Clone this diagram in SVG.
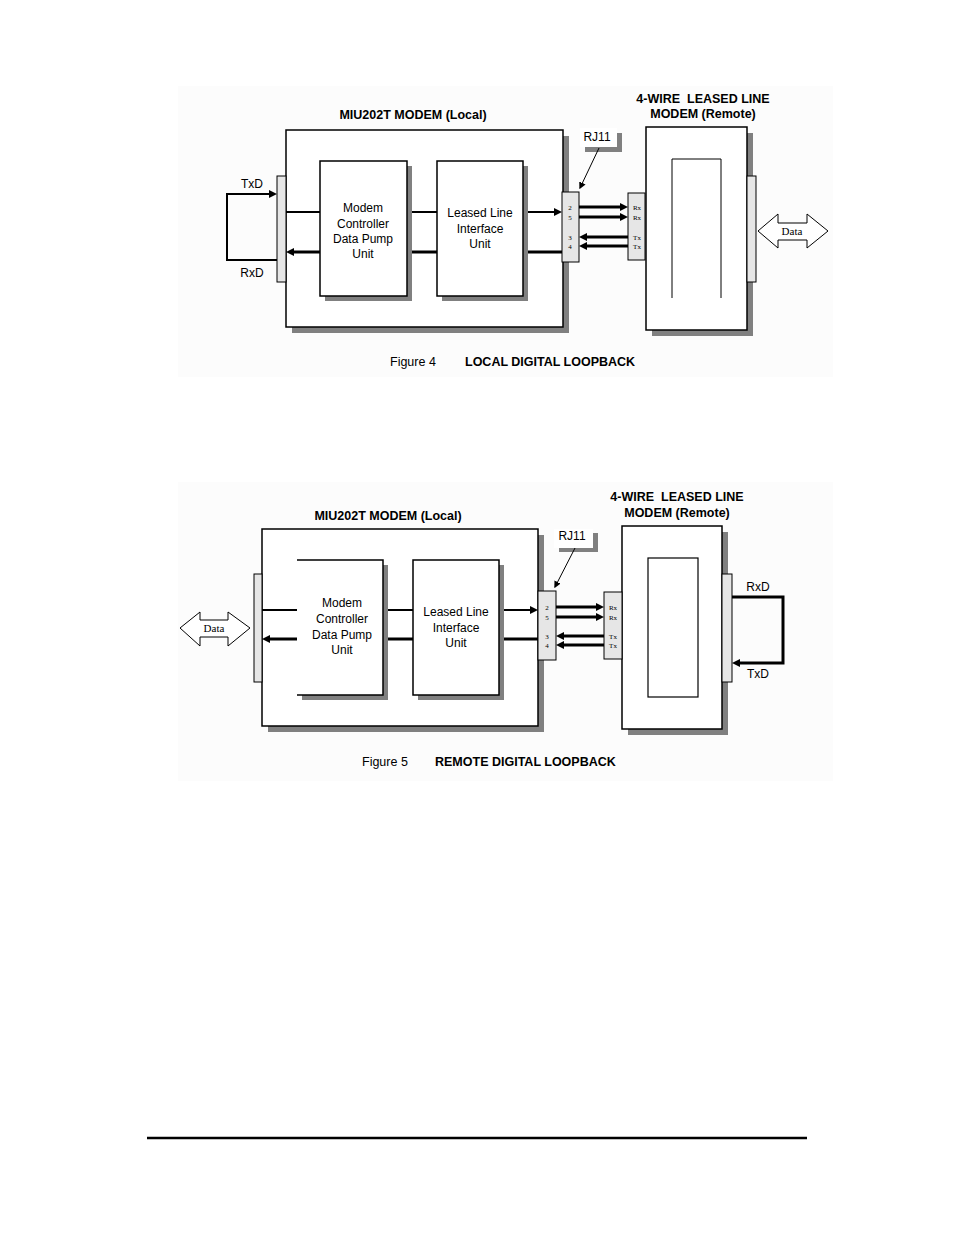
<svg xmlns="http://www.w3.org/2000/svg" width="954" height="1235" viewBox="0 0 954 1235">
<style>
.bg{fill:#fcfcfc}
.box{fill:#fff;stroke:#000;stroke-width:1.5}
.sh{fill:#808080}
.strip{fill:#e6e6e6;stroke:#000;stroke-width:1}
.thin{stroke:#000;stroke-width:2;fill:none}
.thick{stroke:#000;stroke-width:3;fill:none}
.ptr{stroke:#000;stroke-width:1;fill:none}
.t{font-family:"Liberation Sans",Arial,sans-serif;font-size:12px;fill:#000}
.b{font-family:"Liberation Sans",Arial,sans-serif;font-size:12.5px;font-weight:bold;fill:#000}
.cap{font-family:"Liberation Sans",Arial,sans-serif;font-size:12.5px;fill:#000}
.pin{font-family:"Liberation Serif","Times New Roman",serif;font-size:7px;fill:#000}
.dt{font-family:"Liberation Serif","Times New Roman",serif;font-size:11px;fill:#000}
.dar{fill:#fff;stroke:#000;stroke-width:1}
</style>
<defs>
<marker id="ah" viewBox="0 0 10 10" refX="5" refY="5" markerWidth="8" markerHeight="8" markerUnits="userSpaceOnUse" orient="auto"><path d="M0,0 L10,5 L0,10 z" fill="#000"/></marker>
<marker id="ahs" viewBox="0 0 10 10" refX="8" refY="5" markerWidth="7" markerHeight="7" markerUnits="userSpaceOnUse" orient="auto"><path d="M0,0 L10,5 L0,10 z" fill="#000"/></marker>
</defs>
<rect width="954" height="1235" fill="#fff"/>
<rect class="bg" x="178" y="86" width="655" height="291"/>
<rect class="bg" x="178" y="482" width="655" height="299"/>

<!-- ================= FIGURE 4 ================= -->
<g id="fig4-local-modem">
<rect class="sh" x="292" y="136" width="277" height="197"/>
<rect class="box" x="286" y="130" width="277" height="197"/>
<text class="b" x="413" y="119" text-anchor="middle">MIU202T MODEM (Local)</text>
</g>
<g id="fig4-modem-controller">
<rect class="sh" x="325" y="166" width="87" height="135"/>
<rect class="box" x="320" y="161" width="87" height="135"/>
<text class="t" text-anchor="middle"><tspan x="363" y="212">Modem</tspan><tspan x="363" y="228">Controller</tspan><tspan x="363" y="243">Data Pump</tspan><tspan x="363" y="258">Unit</tspan></text>
</g>
<g id="fig4-leased-line">
<rect class="sh" x="442" y="166" width="86" height="135"/>
<rect class="box" x="437" y="161" width="86" height="135"/>
<text class="t" text-anchor="middle"><tspan x="480" y="217">Leased Line</tspan><tspan x="480" y="233">Interface</tspan><tspan x="480" y="248">Unit</tspan></text>
</g>
<g id="fig4-left-strip">
<rect class="strip" x="277" y="176" width="9" height="106"/>
<text class="t" x="252" y="188" text-anchor="middle">TxD</text>
<text class="t" x="252" y="277" text-anchor="middle">RxD</text>
</g>
<g id="fig4-rj11-local">
<rect class="strip" x="562" y="192" width="17" height="70"/>
<text class="pin" x="570" y="209.5" text-anchor="middle">2</text>
<text class="pin" x="570" y="219.5" text-anchor="middle">5</text>
<text class="pin" x="570" y="239.5" text-anchor="middle">3</text>
<text class="pin" x="570" y="248.5" text-anchor="middle">4</text>
</g>
<g id="fig4-rj11-label">
<rect class="sh" x="585" y="133" width="37" height="19"/>
<rect x="580" y="128" width="37" height="19" fill="#fff"/>
<text class="t" x="597" y="141" text-anchor="middle">RJ11</text>
</g>
<g id="fig4-remote-modem">
<rect class="sh" x="652" y="133" width="101" height="203"/>
<rect class="box" x="646" y="127" width="101" height="203"/>
<path d="M672,298 V159 H721 V298" class="ptr" stroke-width="1.2"/>
<text class="b" x="703" y="103" text-anchor="middle" xml:space="preserve">4-WIRE  LEASED LINE</text>
<text class="b" x="703" y="118" text-anchor="middle">MODEM (Remote)</text>
<rect class="strip" x="747" y="176" width="9" height="106"/>
<rect class="strip" x="628" y="193" width="17" height="67"/>
<text class="pin" x="637" y="209.5" text-anchor="middle">Rx</text>
<text class="pin" x="637" y="219.5" text-anchor="middle">Rx</text>
<text class="pin" x="637" y="239.5" text-anchor="middle">Tx</text>
<text class="pin" x="637" y="248.5" text-anchor="middle">Tx</text>
</g>
<g id="fig4-data">
<polygon class="dar" points="758,231 778,214 778,223 807,223 807,214 828,231 807,248 807,240 778,240 778,248"/>
<text class="dt" x="792" y="235" text-anchor="middle">Data</text>
</g>
<g id="fig4-caption">
<text class="cap" x="390" y="366">Figure 4</text>
<text class="b" x="465" y="366">LOCAL DIGITAL LOOPBACK</text>
</g>
<g id="fig4-connectors">
<path class="thin" d="M277,260 H227 V194 H273" marker-end="url(#ah)"/>
<line class="thin" x1="286" y1="212" x2="320" y2="212"/>
<line class="thick" x1="320" y1="252" x2="290" y2="252" marker-end="url(#ah)"/>
<line class="thin" x1="412" y1="212" x2="437" y2="212"/>
<line class="thick" x1="412" y1="252" x2="437" y2="252"/>
<line class="thin" x1="528" y1="212" x2="558" y2="212" marker-end="url(#ah)"/>
<line class="thick" x1="528" y1="252" x2="562" y2="252"/>
<line class="thick" x1="579" y1="207" x2="624" y2="207" marker-end="url(#ah)"/>
<line class="thick" x1="579" y1="217" x2="624" y2="217" marker-end="url(#ah)"/>
<line class="thick" x1="628" y1="237" x2="583" y2="237" marker-end="url(#ah)"/>
<line class="thick" x1="628" y1="246" x2="583" y2="246" marker-end="url(#ah)"/>
<line class="ptr" x1="599" y1="148" x2="580" y2="188" marker-end="url(#ahs)"/>
</g>

<!-- ================= FIGURE 5 ================= -->
<g id="fig5-local-modem">
<rect class="sh" x="268" y="535" width="276" height="197"/>
<rect class="box" x="262" y="529" width="276" height="197"/>
<text class="b" x="388" y="520" text-anchor="middle">MIU202T MODEM (Local)</text>
</g>
<g id="fig5-modem-controller">
<rect class="sh" x="302" y="565" width="86" height="135"/>
<rect x="297" y="560" width="86" height="135" fill="#fff"/>
<path d="M297,560 H383 V695 H297" fill="none" stroke="#000" stroke-width="1.5"/>
<text class="t" text-anchor="middle"><tspan x="342" y="607">Modem</tspan><tspan x="342" y="623">Controller</tspan><tspan x="342" y="639">Data Pump</tspan><tspan x="342" y="654">Unit</tspan></text>
</g>
<g id="fig5-leased-line">
<rect class="sh" x="418" y="565" width="86" height="135"/>
<rect class="box" x="413" y="560" width="86" height="135"/>
<text class="t" text-anchor="middle"><tspan x="456" y="616">Leased Line</tspan><tspan x="456" y="632">Interface</tspan><tspan x="456" y="647">Unit</tspan></text>
</g>
<g id="fig5-left-strip">
<rect class="strip" x="254" y="574" width="8" height="108"/>
</g>
<g id="fig5-data">
<polygon class="dar" points="180,628 200,612 200,620 228,620 228,612 250,628 228,646 228,637 200,637 200,646"/>
<text class="dt" x="214" y="632" text-anchor="middle">Data</text>
</g>
<g id="fig5-rj11-local">
<rect class="strip" x="538" y="591" width="18" height="69"/>
<text class="pin" x="547" y="609.5" text-anchor="middle">2</text>
<text class="pin" x="547" y="619.5" text-anchor="middle">5</text>
<text class="pin" x="547" y="638.5" text-anchor="middle">3</text>
<text class="pin" x="547" y="647.5" text-anchor="middle">4</text>
</g>
<g id="fig5-rj11-label">
<rect class="sh" x="559" y="533" width="39" height="19"/>
<rect x="554" y="529" width="39" height="19" fill="#fff"/>
<text class="t" x="572" y="540" text-anchor="middle">RJ11</text>
</g>
<g id="fig5-remote-modem">
<rect class="sh" x="628" y="532" width="100" height="203"/>
<rect class="box" x="622" y="526" width="100" height="203"/>
<rect x="648" y="558" width="50" height="139" fill="#fff" stroke="#000" stroke-width="1.2"/>
<text class="b" x="677" y="501" text-anchor="middle" xml:space="preserve">4-WIRE  LEASED LINE</text>
<text class="b" x="677" y="517" text-anchor="middle">MODEM (Remote)</text>
<rect class="strip" x="722" y="574" width="10" height="108"/>
<rect class="strip" x="604" y="592" width="18" height="67"/>
<text class="pin" x="613" y="609.5" text-anchor="middle">Rx</text>
<text class="pin" x="613" y="619.5" text-anchor="middle">Rx</text>
<text class="pin" x="613" y="638.5" text-anchor="middle">Tx</text>
<text class="pin" x="613" y="647.5" text-anchor="middle">Tx</text>
<text class="t" x="758" y="591" text-anchor="middle">RxD</text>
<text class="t" x="758" y="678" text-anchor="middle">TxD</text>
</g>
<g id="fig5-caption">
<text class="cap" x="362" y="766">Figure 5</text>
<text class="b" x="435" y="766">REMOTE DIGITAL LOOPBACK</text>
</g>
<g id="fig5-connectors">
<path class="thick" d="M732,597 H783 V663 H736" marker-end="url(#ah)"/>
<line class="thin" x1="262" y1="610" x2="297" y2="610"/>
<line class="thick" x1="297" y1="639" x2="266" y2="639" marker-end="url(#ah)"/>
<line class="thin" x1="388" y1="610" x2="413" y2="610"/>
<line class="thick" x1="388" y1="639" x2="413" y2="639"/>
<line class="thin" x1="504" y1="610" x2="534" y2="610" marker-end="url(#ah)"/>
<line class="thick" x1="504" y1="639" x2="538" y2="639"/>
<line class="thick" x1="556" y1="607" x2="600" y2="607" marker-end="url(#ah)"/>
<line class="thick" x1="556" y1="617" x2="600" y2="617" marker-end="url(#ah)"/>
<line class="thick" x1="604" y1="636" x2="560" y2="636" marker-end="url(#ah)"/>
<line class="thick" x1="604" y1="645" x2="560" y2="645" marker-end="url(#ah)"/>
<line class="ptr" x1="575" y1="548" x2="555" y2="587" marker-end="url(#ahs)"/>
</g>

<line x1="147" y1="1138" x2="807" y2="1138" stroke="#000" stroke-width="2.5"/>
</svg>
